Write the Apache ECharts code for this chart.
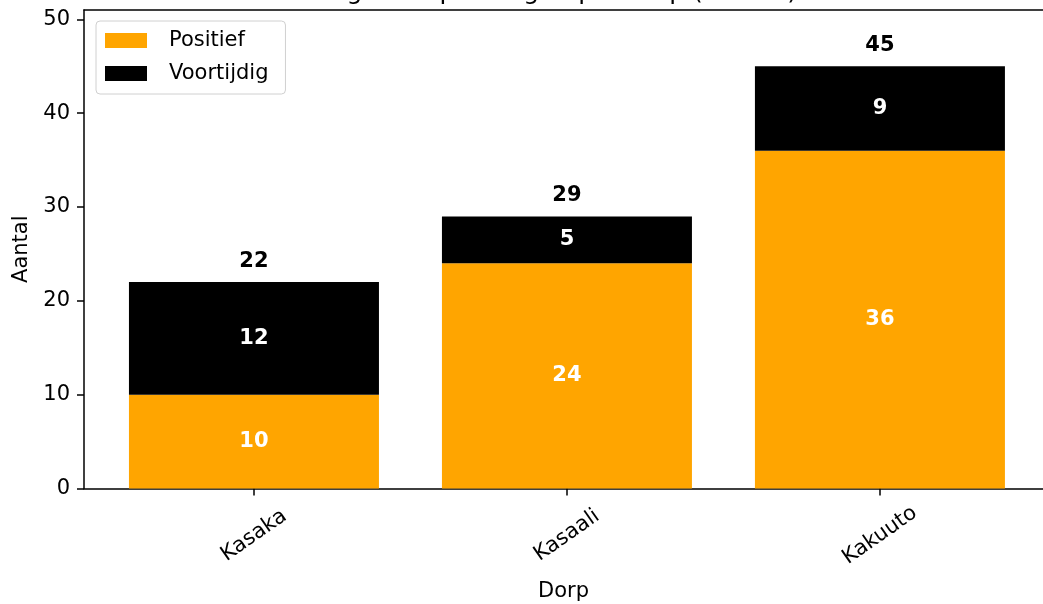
<!DOCTYPE html>
<html>
<head>
<meta charset="utf-8">
<script src="https://cdn.jsdelivr.net/npm/echarts@6/dist/echarts.min.js"></script>
<style>
html,body{margin:0;padding:0;background:#fff;}
#chart{width:1043px;height:604px;}
</style>
</head>
<body>
<div id="chart"></div>
<script>
const titleText = 'Afsluiting van opleidingen per dorp (n = 96)';
const categories = ['Kasaka', 'Kasaali', 'Kakuuto'];
const positief = [10, 24, 36];
const voortijdig = [12, 5, 9];
const totals = [22, 29, 45];
const seriesNames = ['Positief', 'Voortijdig'];
const yAxisName = 'Aantal';
const xAxisName = 'Dorp';

const FONT = 'DejaVu Sans';
const chart = echarts.init(document.getElementById('chart'), null, {renderer: 'canvas'});
const idx = categories.map((c, i) => i);
// value first, category index second: stacking happens on the value dimension
const rows = arr => arr.map((v, i) => [v, i]);
const innerLabel = {show: true, position: 'inside', formatter: p => p.value[0], color: '#fff', fontWeight: 'bold', fontSize: 21, fontFamily: FONT};
const X_MIN = -0.543, X_MAX = 2.521;

chart.setOption({
  animation: false,
  backgroundColor: '#ffffff',
  textStyle: {fontFamily: FONT},
  title: {
    text: titleText,
    left: 'center',
    top: -20,
    padding: 0,
    textStyle: {fontFamily: FONT, fontSize: 25, fontWeight: 'normal', color: '#000'}
  },
  legend: {
    data: seriesNames,
    orient: 'vertical',
    left: 96,
    top: 21,
    padding: [9, 17, 10, 9],
    itemGap: 12,
    itemWidth: 42,
    itemHeight: 15,
    icon: 'rect',
    borderColor: '#d0d0d0',
    borderWidth: 1,
    borderRadius: 4,
    backgroundColor: 'rgba(255,255,255,0.8)',
    textStyle: {fontFamily: FONT, fontSize: 21, color: '#000', padding: [0, 0, 0, 17]}
  },
  grid: {
    left: 84,
    top: 10,
    right: 0,
    bottom: 115.5,
    show: false,
    containLabel: false,
    outerBoundsMode: 'none'
  },
  xAxis: [{
    type: 'value',
    min: X_MIN,
    max: X_MAX,
    name: xAxisName,
    nameLocation: 'middle',
    nameGap: 93,
    nameTextStyle: {fontFamily: FONT, fontSize: 21, color: '#000'},
    axisLine: {show: true, onZero: false, lineStyle: {color: '#000', width: 1.5}},
    axisTick: {show: true, length: 7, customValues: idx, lineStyle: {color: '#000', width: 1.5}},
    axisLabel: {
      customValues: idx,
      formatter: v => categories[Math.round(v)],
      rotate: 35,
      align: 'center',
      verticalAlign: 'middle',
      margin: 47,
      fontFamily: FONT,
      fontSize: 21,
      color: '#000'
    },
    splitLine: {show: false}
  }, {
    type: 'value',
    position: 'top',
    min: X_MIN,
    max: X_MAX,
    axisLine: {show: true, onZero: false, lineStyle: {color: '#000', width: 1.5}},
    axisTick: {show: false},
    axisLabel: {show: false},
    splitLine: {show: false}
  }],
  yAxis: {
    type: 'value',
    min: 0,
    max: 51,
    interval: 10,
    name: yAxisName,
    nameLocation: 'middle',
    nameGap: 50,
    nameTextStyle: {fontFamily: FONT, fontSize: 21, color: '#000'},
    axisLine: {show: true, onZero: false, lineStyle: {color: '#000', width: 1.5}},
    axisTick: {show: true, length: 7, lineStyle: {color: '#000', width: 1.5}},
    axisLabel: {margin: 14, fontFamily: FONT, fontSize: 21, color: '#000', showMaxLabel: false},
    splitLine: {show: false}
  },
  series: [
    {
      name: seriesNames[0],
      type: 'bar',
      stack: 'total',
      barWidth: 250,
      xAxisIndex: 0,
      encode: {x: 1, y: 0},
      data: rows(positief),
      itemStyle: {color: '#FFA500'},
      label: innerLabel
    },
    {
      name: seriesNames[1],
      type: 'bar',
      stack: 'total',
      barWidth: 250,
      xAxisIndex: 0,
      encode: {x: 1, y: 0},
      data: rows(voortijdig),
      itemStyle: {color: '#000000'},
      label: innerLabel
    },
    {
      name: 'Totaal',
      type: 'scatter',
      symbolSize: 1,
      xAxisIndex: 0,
      itemStyle: {opacity: 0},
      silent: true,
      encode: {x: 1, y: 0},
      data: rows(totals),
      label: {show: true, position: 'top', distance: 10, formatter: p => p.value[0], color: '#000', opacity: 1, fontWeight: 'bold', fontSize: 21, fontFamily: FONT}
    }
  ]
});
</script>
</body>
</html>
